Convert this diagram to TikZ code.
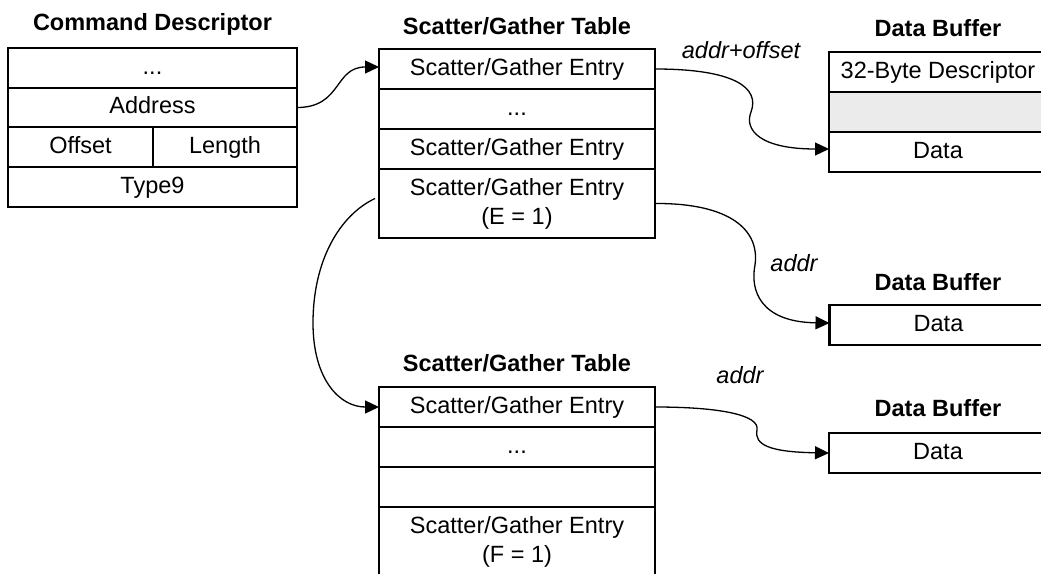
\documentclass[tikz,border=0pt]{standalone}
\usepackage{fontspec}
\setmainfont{Liberation Sans}
\usetikzlibrary{arrows.meta,calc}
\definecolor{shade}{HTML}{EBEBEB}
\begin{document}
\begin{tikzpicture}[x=1pt,y=-1pt,
  font=\fontsize{23.5}{29}\selectfont,
  basecell/.style={draw,line width=2.4pt,inner sep=0pt,outer sep=0pt,align=center},
  cell/.style={basecell,text height=17pt,text depth=5pt},
  title/.style={font=\fontsize{23.5}{29}\selectfont\bfseries},
  lbl/.style={font=\fontsize{23.5}{29}\selectfont\itshape},
  conn/.style={line width=1.3pt,-{Triangle[length=14pt,width=13pt]}}]
\useasboundingbox (0,0) rectangle (1041,573);

% Command Descriptor
\node[title] (cdt) at (152.5,24) {Command Descriptor};
\node[cell,minimum width=289,minimum height=40] (cd1) at (152.5,68) {...};
\node[cell,minimum width=289,minimum height=39] (cd2) at (152.5,107.5) {Address};
\node[cell,minimum width=145,minimum height=40] (cd3a) at (80.5,147) {Offset};
\node[cell,minimum width=144,minimum height=40] (cd3b) at (225,147) {Length};
\node[cell,minimum width=289,minimum height=40] (cd4) at (152.5,187) {Type9};

% Scatter/Gather Table 1
\node[title] (sg1t) at (517,26) {Scatter/Gather Table};
\node[cell,minimum width=276,minimum height=40] (sg1a) at (517,69) {Scatter/Gather Entry};
\node[cell,minimum width=276,minimum height=40] (sg1b) at (517,109) {...};
\node[cell,minimum width=276,minimum height=40] (sg1c) at (517,149) {Scatter/Gather Entry};
\node[basecell,minimum width=276,minimum height=69] (sg1e) at (517,203.5) {Scatter/Gather Entry\\(E = 1)};

% Data Buffer 1
\node[title] (db1t) at (938,28) {Data Buffer};
\node[cell,minimum width=218,minimum height=40] (db1a) at (938,72) {32-Byte Descriptor};
\node[cell,fill=shade,minimum width=218,minimum height=40] (db1b) at (938,112) {};
\node[cell,minimum width=218,minimum height=40] (db1c) at (938,152) {Data};

% Data Buffer 2
\node[title] (db2t) at (938,282) {Data Buffer};
\node[cell,minimum width=218,minimum height=40] (db2) at (938.5,325) {Data};

% Data Buffer 3
\node[title] (db3t) at (938,408) {Data Buffer};
\node[cell,minimum width=218,minimum height=40] (db3) at (938,453) {Data};

% Scatter/Gather Table 2
\node[title] (sg2t) at (517,363) {Scatter/Gather Table};
\node[cell,minimum width=276,minimum height=40] (sg2a) at (517,407) {Scatter/Gather Entry};
\node[cell,minimum width=276,minimum height=40] (sg2b) at (517,447) {...};
\node[cell,minimum width=276,minimum height=40] (sg2c) at (517,487) {};
\node[basecell,minimum width=276,minimum height=69] (sg2d) at (517,541.5) {Scatter/Gather Entry\\(F = 1)};

% labels
\node[lbl] (l1) at (741,50) {addr+offset};
\node[lbl] (l2) at (794,263) {addr};
\node[lbl] (l3) at (740,375) {addr};

% connectors
\draw[conn] (cd2.east) .. controls +(45,0) and +(-45,0) .. ($(sg1a.west)+(0,-2)$);
\draw[conn] (sg1a.east) .. controls (735,69) and (760,88) .. (751,112)
  .. controls (744,130) and (760,149) .. ($(db1c.west)+(0,-3)$);
\draw[conn] (sg1e.east) .. controls (730,203) and (760,230) .. (755,265)
  .. controls (750,290) and (760,322) .. ($(db2.west)+(0,-2)$);
\draw[conn] (sg2a.east) .. controls (720,407) and (760,415) .. (757,430)
  .. controls (754,445) and (770,452) .. (db3.west);
\draw[conn] ($(sg1e.west)+(-4,-5)$) .. controls (340,215) and (313,260) .. (313,323)
  .. controls (313,380) and (340,407) .. (sg2a.west);
\end{tikzpicture}
\end{document}
